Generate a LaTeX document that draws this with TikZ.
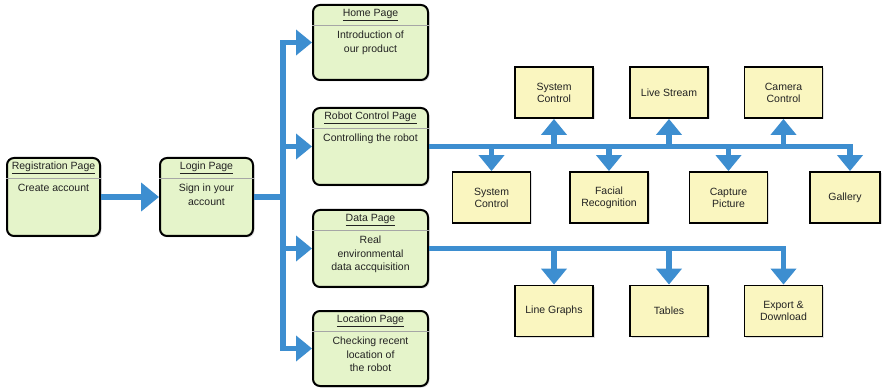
\documentclass[tikz,border=0pt]{standalone}
\usepackage{fontspec}
\setmainfont{Liberation Sans}
\usetikzlibrary{arrows.meta,shadows}

\definecolor{flowblue}{HTML}{3D8ED0}
\definecolor{pagefill}{HTML}{E5F4CA}
\definecolor{itemfill}{HTML}{FAF6C0}
\definecolor{inktext}{HTML}{222222}

\tikzset{
  pagebox/.style={draw=black, line width=2pt, rounded corners=7pt, fill=pagefill,
    drop shadow={opacity=0.25, shadow xshift=1.5pt, shadow yshift=-1.5pt}},
  itembox/.style={draw=black, line width=1.8pt, fill=itemfill,
    minimum width=78pt, minimum height=51pt, align=center, inner sep=1pt,
    font=\fontsize{10.5}{12}\selectfont, text=inktext,
    drop shadow={opacity=0.25, shadow xshift=1.5pt, shadow yshift=-1.5pt}},
  pagetitle/.style={anchor=center, font=\fontsize{10.5}{12}\selectfont, text=inktext, inner sep=0pt},
  pagebody/.style={anchor=north, align=center, font=\fontsize{10.5}{13.5}\selectfont, text=inktext, inner sep=0pt},
  flow/.style={draw=flowblue, line width=5.5pt,
    -{Triangle[length=16pt 0 0, width=25pt 0 0, fill=flowblue]}},
  bigflow/.style={flow, -{Triangle[length=18pt 0 0, width=28pt 0 0, fill=flowblue]}},
  bus/.style={draw=flowblue, line width=5.5pt},
}

% a rounded page card: name, centre x, centre y, width, height, title, body
\newcommand{\sitepage}[7]{%
  \node[pagebox, minimum width=#4pt, minimum height=#5pt, inner sep=0pt] (#1) at (#2,#3) {};
  \node[pagetitle] (#1-t) at ([yshift=-11pt]#1.north) {\underline{#6}};
  \draw[gray!70, line width=0.6pt] ([yshift=-21pt]#1.north west) -- ([yshift=-21pt]#1.north east);
  \node[pagebody] (#1-b) at ([yshift=-27pt]#1.north) {#7};
}

\begin{document}
\begin{tikzpicture}[x=1pt, y=-1pt]
\useasboundingbox (0,0) rectangle (884,390);

% page cards
\sitepage{reg}{53.5}{197}{93}{78}{Registration Page}{Create account}
\sitepage{login}{206.5}{197}{93}{78}{Login Page}{Sign in your\\account}
\sitepage{home}{370.5}{42.5}{115}{75}{Home Page}{Introduction of\\our product}
\sitepage{robot}{370.5}{146.5}{115}{77}{Robot Control Page}{Controlling the robot}
\sitepage{data}{370.5}{248.5}{115}{77}{Data Page}{Real\\environmental\\data accquisition}
\sitepage{loc}{370.5}{348.5}{115}{75}{Location Page}{Checking recent\\location of\\the robot}

% robot features
\node[itembox] (sysup) at (554,92.5) {System\\Control};
\node[itembox] (live) at (669,92.5) {Live Stream};
\node[itembox] (cam) at (783.5,92.5) {Camera\\Control};
\node[itembox] (sysdn) at (491.5,197.5) {System\\Control};
\node[itembox] (face) at (609,197.5) {Facial\\Recognition};
\node[itembox] (cap) at (728.5,197.5) {Capture\\Picture};
\node[itembox, minimum width=70pt] (gal) at (845,197.5) {Gallery};

% data outputs
\node[itembox] (graphs) at (554,311) {Line Graphs};
\node[itembox] (tables) at (669,311) {Tables};
\node[itembox] (export) at (783.5,311) {Export \&\\Download};

% registration to login
\draw[bigflow] (reg.east) -- (login.west);

% login fans out to the pages
\coordinate (trunk) at (283,197);
\draw[bus] (login.east) -- (trunk);
\foreach \p in {home,robot,data,loc}
  \draw[flow] (trunk) |- (\p.west);

% robot control features
\foreach \f in {sysup,live,cam,sysdn,face,cap}
  \draw[flow] (robot.east) -| (\f);
\draw[flow] (robot.east) -| ([xshift=5pt]gal.north);

% data page outputs
\foreach \f in {graphs,tables,export}
  \draw[flow] (data.east) -| (\f.north);
\end{tikzpicture}
\end{document}
